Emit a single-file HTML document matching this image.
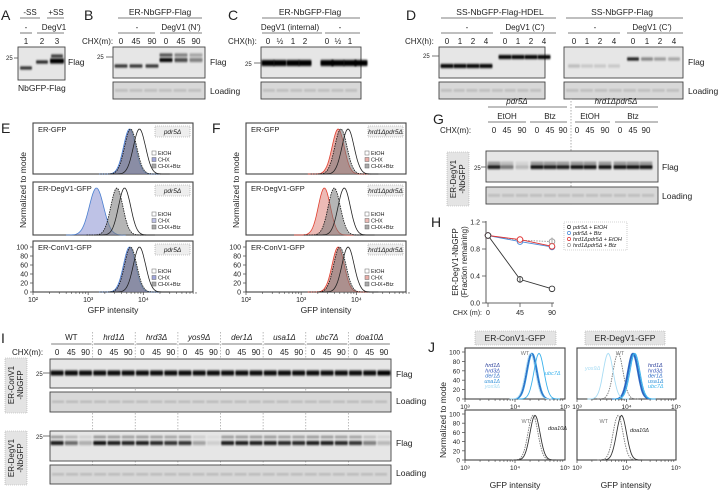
<!DOCTYPE html>
<html><head><meta charset="utf-8"><style>
body{margin:0;background:#fff;width:720px;height:493px;overflow:hidden}
svg{display:block;font-family:"Liberation Sans",Arial,sans-serif}
</style></head><body>
<svg id="fig" width="720" height="493" viewBox="0 0 720 493" xmlns="http://www.w3.org/2000/svg">
<defs>
<filter id="blur" x="-20%" y="-100%" width="140%" height="300%"><feGaussianBlur stdDeviation="0.9 1.1"/></filter>
</defs>
</svg>
<script>
// ---------- data arrays ----------
const hTimes=[0,45,90];
const hPdr5EtOH=[1,0.35,0.21];
const hPdr5Btz=[1,0.91,0.83];
const hHrd1EtOH=[1,0.94,0.84];
const hHrd1Btz=[1,0.93,0.91];
const hYTicks=[0,0.4,0.8,1.2];
const hYTickLabels=["0.0","0.4","0.8","1.2"];
// flow peaks (log10 GFP) : EtOH, CHX, CHX+Btz
const eERGFP=[3.93,3.75,3.77];
const eDegV1=[3.66,3.15,3.52];
const eConV1=[3.93,3.75,3.77];
const fERGFP=[3.85,3.67,3.72];
const fDegV1=[3.78,3.42,3.6];
const fConV1=[3.85,3.67,3.7];
const flowTickLabels=["10²","10³","10⁴","10⁵"];
const yTicks=[0,20,40,60,80,100];
// J peaks
const jConStrains=["WT","hrd1Δ","hrd3Δ","der1Δ","usa1Δ","yos9Δ","ubc7Δ"];
const jConPeaks=[4.33,4.33,4.34,4.33,4.35,4.31,4.48];
const jDegPeaks=[3.83,4.13,4.14,4.12,4.15,3.63,4.17];
const jDoaCon=[4.36,4.4];
const jDoaDeg=[3.83,3.9];
// blot intensities
const aBands=[0.85,0.9,1];
const bMinus=[0.85,0.85,0.85];
const bDeg=[1,0.7,0.45];
const cBands=[1,1,1,1,1,1,1,1];
const dHdelMinus=[1,1,1,1];
const dHdelDeg=[1,1,1,1];
const dFlagMinus=[0.2,0.14,0.14,0.14];
const dFlagDeg=[0.95,0.45,0.35,0.3];
const gBands=[0.9,0.5,0.2,0.95,0.9,0.9,0.95,0.95,0.95,0.95,0.95,0.95];
const iConV1=[0.95,0.95,0.95,0.95,0.95,0.95,0.95,0.95,0.95,0.95,0.95,0.95,0.95,0.95,0.95,0.95,0.95,0.95,0.95,0.95,0.95,0.95,0.95,1];
const iDegV1=[0.9,0.55,0.25,0.95,0.9,0.88,0.9,0.85,0.8,0.8,0.3,0.1,0.9,0.9,0.9,0.9,0.85,0.85,0.9,0.9,0.85,0.8,0.45,0.2];

const NS="http://www.w3.org/2000/svg";
const svg=document.getElementById('fig');
function mk(tag,attrs,name,parent){
  const el=document.createElementNS(NS,tag);
  for(const k in attrs) el.setAttribute(k,attrs[k]);
  
  
  (parent||svg).appendChild(el);return el;
}
function T(x,y,s,size,name,anchor,extra){
  const el=mk('text',Object.assign({x:x,y:y,'font-size':size,fill:'#222','text-anchor':anchor||'start'},extra||{}),name);
  el.textContent=s;return el;
}
function L(x1,y1,x2,y2,name,extra){return mk('line',Object.assign({x1,y1,x2,y2,stroke:'#555','stroke-width':0.8},extra||{}),name);}
function R(x,y,w,h,name,extra){return mk('rect',Object.assign({x,y,width:w,height:h,fill:'none',stroke:'#444','stroke-width':0.9},extra||{}),name);}

function blot(x,y,w,h,name,bg){ R(x,y,w,h,name,{fill:bg||'#e6e6e6'}); }
function bands(xs,vals,y,bw,name,th){
  xs.forEach((cx,i)=>{
    mk('rect',{x:cx-bw/2,y:y-(th||3)/2,width:bw,height:th||3,rx:1,fill:'#000',opacity:vals[i],filter:'url(#blur)'},name);
  });
}
function loading(x,y,w,h,n,name){
  R(x,y,w,h,name,{fill:'#d8d8d8'});
  for(let i=0;i<n;i++){
    mk('rect',{x:x+2+i*(w-4)/n,y:y+h*0.45,width:(w-4)/n-2,height:1.5,fill:'#888',opacity:0.6,filter:'url(#blur)'},'loading-band');
  }
}
function lanesX(x0,x1,n){const a=[];for(let i=0;i<n;i++)a.push(x0+(x1-x0)*(i+0.5)/n);return a;}

// ---------- Panel A ----------
T(1,20,'A',14,'panel-a-label');
T(30,15,'-SS',8,'label-minus-ss','middle');T(56,15,'+SS',8,'label-plus-ss','middle');
L(20,18,40,18,'underline');L(47,18,64,18,'underline');
T(26,30,'-',8,'label-dash','middle');T(54,30,'DegV1',8,'label-degv1','middle');
L(20,33,32,33,'underline');L(37,33,64,33,'underline');
const aX=[26,42,57];
aX.forEach((x,i)=>T(x,44,String(i+1),8,'lane-number','middle'));
blot(18,47,47,33,'blot-a');
bands([26],[aBands[0]],68,12,'band-a');bands([42],[aBands[1]],62,12,'band-a');bands([57],[aBands[2]],61,14,'band-a',5);bands([57],[0.8],56,12,'band-a');
T(6,60,'25',6,'mw-25');L(14,58,18,58,'mw-tick');
T(68,65,'Flag',8.5,'flag-label');
T(18,91,'NbGFP-Flag',8.5,'nbgfp-flag-label');

// ---------- Panel B ----------
T(84,20,'B',14,'panel-b-label');
T(160,15,'ER-NbGFP-Flag',8.5,'header-er-nbgfp','middle');L(118,18,202,18,'underline');
T(137,30,'-',8,'label-dash','middle');T(181,30,'DegV1 (N\')',8,'label-degv1-n','middle');
L(118,33,155,33,'underline');L(160,33,202,33,'underline');
T(82,44,'CHX(m):',8,'chx-label');
const bX=[121,136,152,166,181,196];
['0','45','90','0','45','90'].forEach((s,i)=>T(bX[i],44,s,8,'chx-time','middle'));
blot(113,47,92,31,'blot-b');
bands(bX.slice(0,3),bMinus,66,13,'band-b');
bands(bX.slice(3),bDeg,60,13,'band-b',4);bands(bX.slice(3),bDeg.map(v=>v*0.7),55,13,'band-b');
T(97,59,'25',6,'mw-25');L(106,57,113,57,'mw-tick');
T(210,65,'Flag',8.5,'flag-label');
loading(113,82,92,17,6,'loading-b');T(210,94,'Loading',8.5,'loading-label');

// ---------- Panel C ----------
T(228,20,'C',14,'panel-c-label');
T(310,15,'ER-NbGFP-Flag',8.5,'header-er-nbgfp','middle');L(262,18,360,18,'underline');
T(290,30,'DegV1 (internal)',8,'label-degv1-internal','middle');T(340,30,'-',8,'label-dash','middle');
L(262,33,322,33,'underline');L(325,33,360,33,'underline');
T(228,44,'CHX(h):',8,'chx-label');
const cX=[268,280,293,305,327,338,350,361];
['0','½','1','2','0','½','1','2'].forEach((s,i)=>{if(cX[i]<360)T(cX[i],44,s,8,'chx-time','middle');});
blot(261,47,100,31,'blot-c');
bands(cX,cBands,63,13,'band-c',6);
T(245,66,'25',6,'mw-25');L(254,63,261,63,'mw-tick');
loading(261,82,100,17,7,'loading-c');

// ---------- Panel D ----------
T(406,20,'D',14,'panel-d-label');
T(500,15,'SS-NbGFP-Flag-HDEL',8.5,'header-hdel','middle');L(441,18,556,18,'underline');
T(622,15,'SS-NbGFP-Flag',8.5,'header-ss-nbgfp','middle');L(566,18,683,18,'underline');
T(467,30,'-',8,'label-dash','middle');T(525,30,'DegV1 (C\')',8,'label-degv1-c','middle');
T(595,30,'-',8,'label-dash','middle');T(652,30,'DegV1 (C\')',8,'label-degv1-c','middle');
L(441,33,493,33,'underline');L(500,33,556,33,'underline');L(568,33,620,33,'underline');L(627,33,683,33,'underline');
T(405,44,'CHX(h):',8,'chx-label');
const dLX=[447,460,473,486,505,518,531,544];
const dRX=[574,587,600,614,633,647,660,674];
const dT=['0','1','2','4','0','1','2','4'];
dLX.forEach((x,i)=>T(x,44,dT[i],8,'chx-time','middle'));
dRX.forEach((x,i)=>T(x,44,dT[i],8,'chx-time','middle'));
blot(439,47,106,31,'blot-d-hdel');blot(564,47,119,31,'blot-d-flag');
bands(dLX.slice(0,4),dHdelMinus,66,13,'band-d',4);bands(dLX.slice(4),dHdelDeg,57,13,'band-d',4);
bands(dRX.slice(0,4),dFlagMinus,66,12,'band-d');bands(dRX.slice(4),dFlagDeg,59,12,'band-d');
T(423,58,'25',6,'mw-25');L(432,56,439,56,'mw-tick');
T(688,65,'Flag',8.5,'flag-label');
loading(439,82,106,17,8,'loading-d-hdel');loading(564,82,119,17,8,'loading-d-flag');
T(688,94,'Loading',8.5,'loading-label');

// ---------- Flow histogram helpers ----------
function flowPanel(x0,x1,y0,y1,peaks,title,strain,colCHX,showY,name,swc){
  R(x0,y0,x1-x0,y1-y0,name,{fill:'#fff','stroke-width':1.1});
  const lx=v=>x0+(v-2)*(x1-x0)/2.9;
  const ly=v=>y1-v/100*(y1-y0-6);
  function curve(p,sw,fill,stroke,dash,nm){
    let d='';for(let v=p-0.55;v<=p+0.55;v+=0.02){const g=100*Math.exp(-((v-p)**2)/(2*sw*sw));d+=(d?'L':'M')+lx(v).toFixed(1)+','+ly(g).toFixed(1);}
    mk('path',{d:d,fill:fill,stroke:stroke,'stroke-width':0.8,'stroke-dasharray':dash||'none'},nm);
  }
  curve(peaks[1],swc||0.11,colCHX[0],colCHX[1],null,'hist-chx');
  curve(peaks[2],0.11,'rgba(120,120,120,0.55)','#111','1.5,1','hist-chx-btz');
  curve(peaks[0],0.11,'none','#222',null,'hist-etoh');
  T(x0+5,y0+9,title,7.5,'hist-title');
  R(x1-38,y0+3,35,11,'strain-box',{fill:'#eee',stroke:'#999','stroke-dasharray':'1,1','stroke-width':0.6});
  T(x1-20.5,y0+11,strain,6.5,'strain-label','middle',{'font-style':'italic'});
  const lg=[['EtOH','#fff'],['CHX',colCHX[0]],['CHX+Btz','#aaa']];
  lg.forEach((e,i)=>{R(x1-41,y0+(y1-y0)-23+i*6.5,4,4,'legend-swatch',{fill:e[1],stroke:'#666','stroke-width':0.5});T(x1-35,y0+(y1-y0)-19+i*6.5,e[0],5.5,'legend-entry');});
  if(showY){
    yTicks.forEach(t=>{L(x0-3,ly(t),x0,ly(t),'y-tick');T(x0-5,ly(t)+2.5,String(t),7,'y-tick-label','end');});
    for(let dcd=0;dcd<3;dcd++)for(let k=1;k<10;k++){const v=2+dcd+Math.log10(k);L(lx(v),y1,lx(v),y1+(k==1?3:1.8),'x-tick');}
    flowTickLabels.forEach((s,i)=>{if(i<3)T(lx(2+i),y1+10,s,7,'x-tick-label','middle');});
  }
}
// Panel E
T(1,133,'E',14,'panel-e-label');
flowPanel(33,193,123,174,eERGFP,'ER-GFP','pdr5Δ',['rgba(110,120,200,0.65)','#4a7fd0'],false,'hist-e-ergfp');
flowPanel(33,193,182,235,eDegV1,'ER-DegV1-GFP','pdr5Δ',['rgba(110,120,200,0.45)','#4a7fd0'],false,'hist-e-degv1',0.13);
flowPanel(33,193,241,292,eConV1,'ER-ConV1-GFP','pdr5Δ',['rgba(110,120,200,0.65)','#4a7fd0'],true,'hist-e-conv1');
T(113,313,'GFP intensity',8.5,'x-axis-title','middle');
T(26,190,'Normalized to mode',8.5,'y-axis-title','middle',{transform:'rotate(-90 26 190)'});
// Panel F
T(212,133,'F',14,'panel-f-label');
flowPanel(246,406,123,174,fERGFP,'ER-GFP','hrd1Δpdr5Δ',['rgba(220,120,110,0.6)','#e04030'],false,'hist-f-ergfp');
flowPanel(246,406,182,235,fDegV1,'ER-DegV1-GFP','hrd1Δpdr5Δ',['rgba(220,120,110,0.5)','#e04030'],false,'hist-f-degv1');
flowPanel(246,406,241,292,fConV1,'ER-ConV1-GFP','hrd1Δpdr5Δ',['rgba(220,120,110,0.6)','#e04030'],true,'hist-f-conv1');
T(326,313,'GFP intensity',8.5,'x-axis-title','middle');
T(239,190,'Normalized to mode',8.5,'y-axis-title','middle',{transform:'rotate(-90 239 190)'});

// ---------- Panel G ----------
T(433,124,'G',14,'panel-g-label');
T(517,104,'pdr5Δ',8,'header-pdr5','middle',{'font-style':'italic'});L(488,107,567,107,'underline');
T(616,104,'hrd1Δpdr5Δ',8,'header-hrd1pdr5','middle',{'font-style':'italic'});L(575,107,658,107,'underline');
T(507,119,'EtOH',8,'label-etoh','middle');T(550,119,'Btz',8,'label-btz','middle');
T(590,119,'EtOH',8,'label-etoh','middle');T(633,119,'Btz',8,'label-btz','middle');
L(488,122,526,122,'underline');L(530,122,567,122,'underline');L(575,122,610,122,'underline');L(615,122,658,122,'underline');
T(440,133,'CHX(m):',8,'chx-label');
const gX=[494,507,522,537,550,563,577,590,605,620,633,646];
['0','45','90','0','45','90','0','45','90','0','45','90'].forEach((s,i)=>T(gX[i],133,s,8,'chx-time','middle'));
L(571,98,571,205,'divider',{'stroke-dasharray':'1.5,1.5',stroke:'#999'});
blot(486,151,172,31,'blot-g');
bands(gX,gBands,167,13,'band-g',4);bands(gX,gBands.map(v=>v*0.5),163,13,'band-g',2);
T(474,170,'25',6,'mw-25');L(481,167,486,167,'mw-tick');
T(662,170,'Flag',8.5,'flag-label');
loading(486,187,172,17,12,'loading-g');T(662,199,'Loading',8.5,'loading-label');
R(447,152,22,54,'construct-box',{fill:'#e4e4e4',stroke:'#aaa','stroke-dasharray':'1,1','stroke-width':0.6});
T(456,179,'ER-DegV1',8,'construct-label','middle',{transform:'rotate(-90 456 179)'});
T(465,179,'-NbGFP',8,'construct-label','middle',{transform:'rotate(-90 465 179)'});

// ---------- Panel H ----------
T(431,227,'H',14,'panel-h-label');
const hx=v=>488+(v-0)*(552-488)/90;
const hy=v=>303-v*(303-222)/1.2;
L(486,221,486,303,'y-axis',{stroke:'#333'});L(486,303,554,303,'x-axis',{stroke:'#333'});
hYTicks.forEach((t,i)=>{L(482,hy(t),486,hy(t),'y-tick');T(480,hy(t)+2.5,hYTickLabels[i],7,'y-tick-label','end');});
hTimes.forEach(t=>{L(hx(t),303,hx(t),307,'x-tick');T(hx(t),315,String(t),7,'x-tick-label','middle');});
T(482,315,'CHX (m):',7,'x-axis-title','end');
T(458,262,'ER-DegV1-NbGFP',8,'y-axis-title','middle',{transform:'rotate(-90 458 262)'});
T(467,262,'(Fraction remaining)',8,'y-axis-title','middle',{transform:'rotate(-90 467 262)'});
const hSeries=[[hHrd1Btz,'#999','1.5,1.2'],[hPdr5Btz,'#4a8ad8',null],[hHrd1EtOH,'#e03030',null],[hPdr5EtOH,'#333',null]];
hSeries.forEach(s=>{
  const pts=hTimes.map((t,i)=>hx(t)+','+hy(s[0][i])).join(' ');
  mk('polyline',{points:pts,fill:'none',stroke:s[1],'stroke-width':0.9,'stroke-dasharray':s[2]||'none'},'series-line');
  hTimes.forEach((t,i)=>{mk('circle',{cx:hx(t),cy:hy(s[0][i]),r:2.8,fill:'#fff',stroke:s[1],'stroke-width':0.9},'data-point');});
});
L(hx(45),hy(0.30),hx(45),hy(0.40),'error-bar',{stroke:'#333'});
L(hx(90),hy(0.87),hx(90),hy(0.97),'error-bar',{stroke:'#999'});
R(564,222,63,28,'legend-box',{fill:'#fff',stroke:'#aaa','stroke-dasharray':'1,1','stroke-width':0.6});
[['pdr5Δ + EtOH','#333'],['pdr5Δ + Btz','#4a8ad8'],['hrd1Δpdr5Δ + EtOH','#e03030'],['hrd1Δpdr5Δ + Btz','#999']].forEach((e,i)=>{
  mk('circle',{cx:569,cy:227+i*6,r:1.6,fill:'#fff',stroke:e[1],'stroke-width':0.7},'legend-marker');
  T(573,229+i*6,e[0],5.5,'legend-entry',null,{'font-style':'italic'});
});

// ---------- Panel I ----------
T(1,343,'I',14,'panel-i-label');
const iLanes=lanesX(50,391,24);
const iGroups=['WT','hrd1Δ','hrd3Δ','yos9Δ','der1Δ','usa1Δ','ubc7Δ','doa10Δ'];
iGroups.forEach((g,k)=>{
  const cx=(iLanes[k*3]+iLanes[k*3+2])/2;
  T(cx,340,g,8,'strain-header','middle',{'font-style':k?'italic':'normal'});
  L(iLanes[k*3]-6,344,iLanes[k*3+2]+6,344,'underline');
  ['0','45','90'].forEach((s,j)=>T(iLanes[k*3+j],355,s,8,'chx-time','middle'));
  if(k>0)L(50+k*3*(341/24),332,50+k*3*(341/24),485,'divider',{'stroke-dasharray':'1.5,1.5',stroke:'#aaa'});
});
T(12,355,'CHX(m):',8,'chx-label');
blot(50,359,341,29,'blot-i-conv1',null);
bands(iLanes,iConV1,373,13,'band-i',5);
loading(50,392,341,20,24,'loading-i-conv1');
blot(50,431,341,30,'blot-i-degv1');
bands(iLanes,iDegV1,443,13,'band-i',4);bands(iLanes,iDegV1.map(v=>v*0.5),437,13,'band-i',2);
loading(50,465,341,19,24,'loading-i-degv1');
T(36,376,'25',6,'mw-25');L(43,373,50,373,'mw-tick');T(36,439,'25',6,'mw-25');L(43,436,50,436,'mw-tick');
T(396,377,'Flag',8.5,'flag-label');T(396,404,'Loading',8.5,'loading-label');
T(396,446,'Flag',8.5,'flag-label');T(396,476,'Loading',8.5,'loading-label');
R(5,358,22,55,'construct-box',{fill:'#e4e4e4',stroke:'#aaa','stroke-dasharray':'1,1','stroke-width':0.6});
T(14,385,'ER-ConV1',8,'construct-label','middle',{transform:'rotate(-90 14 385)'});
T(23,385,'-NbGFP',8,'construct-label','middle',{transform:'rotate(-90 23 385)'});
R(5,431,22,54,'construct-box',{fill:'#e4e4e4',stroke:'#aaa','stroke-dasharray':'1,1','stroke-width':0.6});
T(14,458,'ER-DegV1',8,'construct-label','middle',{transform:'rotate(-90 14 458)'});
T(23,458,'-NbGFP',8,'construct-label','middle',{transform:'rotate(-90 23 458)'});

// ---------- Panel J ----------
T(428,352,'J',14,'panel-j-label');
const jCols=['#777','#2a3f9a','#3556b8','#2f6fc8','#2d8fd8','#a8dcf4','#3bb2ec'];
function jPanel(x0,x1,y0,y1,peaks,cols,dashIdx,showY,name){
  R(x0,y0,x1-x0,y1-y0,name,{fill:'#fff','stroke-width':1.1});
  const lx=v=>x0+(v-3)*(x1-x0)/2;
  const ly=v=>y1-v/100*(y1-y0-4);
  const sw=0.1;
  peaks.forEach((p,i)=>{
    let d='';for(let v=p-0.42;v<=p+0.42;v+=0.02){const g=97*Math.exp(-((v-p)**2)/(2*sw*sw));d+=(d?'L':'M')+lx(v).toFixed(1)+','+ly(g).toFixed(1);}
    mk('path',{d:d,fill:'none',stroke:cols[i],'stroke-width':0.9,'stroke-dasharray':i===dashIdx?'1.5,1':'none'},'hist-curve');
  });
  if(showY) yTicks.forEach(t=>{L(x0-3,ly(t),x0,ly(t),'y-tick');T(x0-5,ly(t)+2.5,String(t),6.5,'y-tick-label','end');});
  for(let dcd=0;dcd<2;dcd++)for(let k=1;k<10;k++){const v=3+dcd+Math.log10(k);L(lx(v),y1,lx(v),y1+(k==1?3:1.8),'x-tick');}
  ['10³','10⁴','10⁵'].forEach((s,i)=>T(lx(3+i),y1+10,s,6.5,'x-tick-label','middle'));
}
R(475,331,81,14,'header-box',{fill:'#e4e4e4',stroke:'#aaa','stroke-dasharray':'1,1','stroke-width':0.6});
T(515,341,'ER-ConV1-GFP',8.5,'header-conv1','middle');
R(585,331,80,14,'header-box',{fill:'#e4e4e4',stroke:'#aaa','stroke-dasharray':'1,1','stroke-width':0.6});
T(625,341,'ER-DegV1-GFP',8.5,'header-degv1','middle');
jPanel(465,565,348,399,jConPeaks,jCols,0,true,'hist-j-conv1');
jPanel(577,676,348,399,jDegPeaks,jCols,0,false,'hist-j-degv1');
jPanel(465,565,410,460,jDoaCon,['#777','#333'],0,true,'hist-j-conv1-doa10');
jPanel(577,676,410,460,jDoaDeg,['#777','#333'],0,false,'hist-j-degv1-doa10');
T(525,355,'WT',5.5,'curve-label','middle',{fill:'#777'});
['hrd1Δ','hrd3Δ','der1Δ','usa1Δ','yos9Δ'].forEach((s,i)=>T(500,367+i*5.3,s,5.5,'curve-label','end',{'font-style':'italic',fill:jCols[i+1]}));
T(545,375,'ubc7Δ',5.5,'curve-label',null,{'font-style':'italic',fill:jCols[6]});
T(620,355,'WT',5.5,'curve-label','middle',{fill:'#777'});
T(585,370,'yos9Δ',5.5,'curve-label',null,{'font-style':'italic',fill:jCols[5]});
['hrd1Δ','hrd3Δ','der1Δ','usa1Δ','ubc7Δ'].forEach((s,i)=>{const c=[1,2,3,4,6][i];T(648,367+i*5.3,s,5.5,'curve-label',null,{'font-style':'italic',fill:jCols[c]});});
T(530,423,'WT',5.5,'curve-label','end',{fill:'#777'});T(548,430,'doa10Δ',5.5,'curve-label',null,{'font-style':'italic'});
T(608,423,'WT',5.5,'curve-label','end',{fill:'#777'});T(630,432,'doa10Δ',5.5,'curve-label',null,{'font-style':'italic'});
T(515,488,'GFP intensity',8.5,'x-axis-title','middle');T(626,488,'GFP intensity',8.5,'x-axis-title','middle');
T(446,420,'Normalized to mode',8.5,'y-axis-title','middle',{transform:'rotate(-90 446 420)'});
</script>
</body></html>
